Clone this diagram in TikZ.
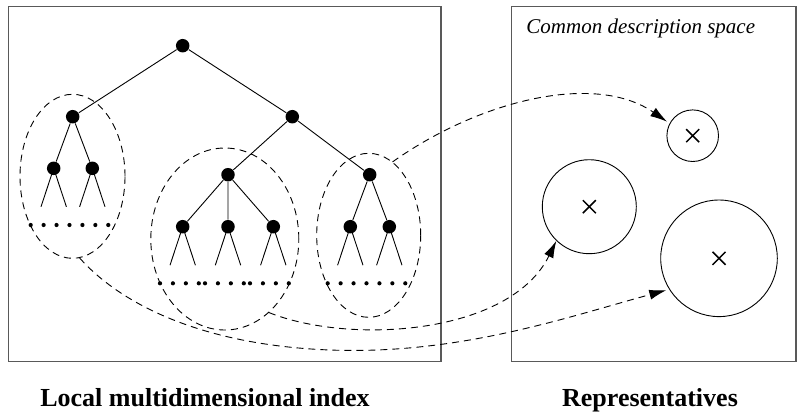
\documentclass[tikz,border=0pt]{standalone}
\usepackage{fontspec}
\setmainfont{Liberation Serif}
\usetikzlibrary{arrows.meta,shapes.geometric}

\begin{document}
\begin{tikzpicture}[x=1pt, y=-1pt, line width=0.9pt,
    vertex/.style={circle, fill, inner sep=0, minimum size=13.5pt},
    group/.style={ellipse, draw, dash pattern=on 7pt off 5pt, inner sep=0},
    rep/.style={circle, draw, inner sep=0},
    link/.style={dash pattern=on 7pt off 5pt, -{Latex[length=17pt, width=10pt]}},
    caption/.style={anchor=base, inner sep=0, font=\bfseries\fontsize{26}{30}\selectfont}]
  \useasboundingbox (0,0) rectangle (797,413);
  % Panels
  \draw[black!65, line width=1.2pt] (8.3,6.7) rectangle (441,361.7);
  \draw[black!65, line width=1.2pt] (511.7,6.7) rectangle (796,361.7);
  \node[anchor=base west, inner sep=0, font=\itshape\fontsize{21}{25}\selectfont] (space) at (526,33.3) {Common description space};
  % Tree
  \node[vertex] (root) at (182.7,45.7) {};
  \node[vertex] (a) at (72.7,116.7) {};
  \node[vertex] (b) at (292.3,116.7) {};
  \node[vertex] (a1) at (53.7,168.3) {};
  \node[vertex] (a2) at (92.3,168.3) {};
  \node[vertex] (b1) at (228,174.7) {};
  \node[vertex] (b2) at (369.7,174.7) {};
  \node[vertex] (b11) at (182.7,226.7) {};
  \node[vertex] (b12) at (228,226.7) {};
  \node[vertex] (b13) at (273.3,226.7) {};
  \node[vertex] (b21) at (350.3,226.7) {};
  \node[vertex] (b22) at (389.3,226.7) {};
  \draw (root) -- (a) (root) -- (b) (a) -- (a1) (a) -- (a2)
        (b) -- (b1) (b) -- (b2) (b1) -- (b11) (b1) -- (b12) (b1) -- (b13)
        (b2) -- (b21) (b2) -- (b22);
  % Open branches below the last level
  \foreach \n in {a1,a2,b11,b12,b13,b21,b22}
    \draw (\n.center) -- ++(-12.7,38.5) (\n.center) -- ++(12.7,38.5);
  % Leaf rows
  \foreach \k in {0,...,6} {
    \fill (30.7+12.93*\k,225) circle (2.1);
    \fill (327.7+12.93*\k,283.3) circle (2.1);
  }
  \foreach \s in {160,205,250}
    \foreach \k in {0,...,3}
      \fill (\s+12.93*\k,283.3) circle (2.1);
  % Subtrees
  \node[group, minimum width=105pt, minimum height=164pt] (ga) at (72.5,176.3) {};
  \node[group, minimum width=148pt, minimum height=182pt] (gb) at (224.8,239) {};
  \node[group, minimum width=104pt, minimum height=164pt] (gc) at (368.7,235.3) {};
  % Representatives
  \node[rep, minimum size=51.6pt] (rs) at (692.7,135.7) {};
  \node[rep, minimum size=94pt] (rm) at (589.3,206.7) {};
  \node[rep, minimum size=116.6pt] (rl) at (719,258.3) {};
  \foreach \c in {rs,rm,rl}
    \draw[line width=1.5pt] ([shift={(-6.5,-6.5)}]\c.center) -- ([shift={(6.5,6.5)}]\c.center)
      ([shift={(-6.5,6.5)}]\c.center) -- ([shift={(6.5,-6.5)}]\c.center);
  % Mappings
  \draw[link, shorten >=3pt] (gc.72) .. controls (480,100) and (595,72) .. (rs.152);
  \draw[link] (gb.-59.5) .. controls (350,345) and (510,335) .. (rm.226);
  \draw[link, shorten >=3pt] (ga.-85.5) .. controls +(40,45) and +(-130,-5) .. (330,350)
    .. controls +(130,5) and +(-100,27) .. (rl.212);
  % Captions
  \node[caption] (lidx) at (205,406.7) {Local multidimensional index};
  \node[caption] (reps) at (650,406.7) {Representatives};
\end{tikzpicture}
\end{document}
